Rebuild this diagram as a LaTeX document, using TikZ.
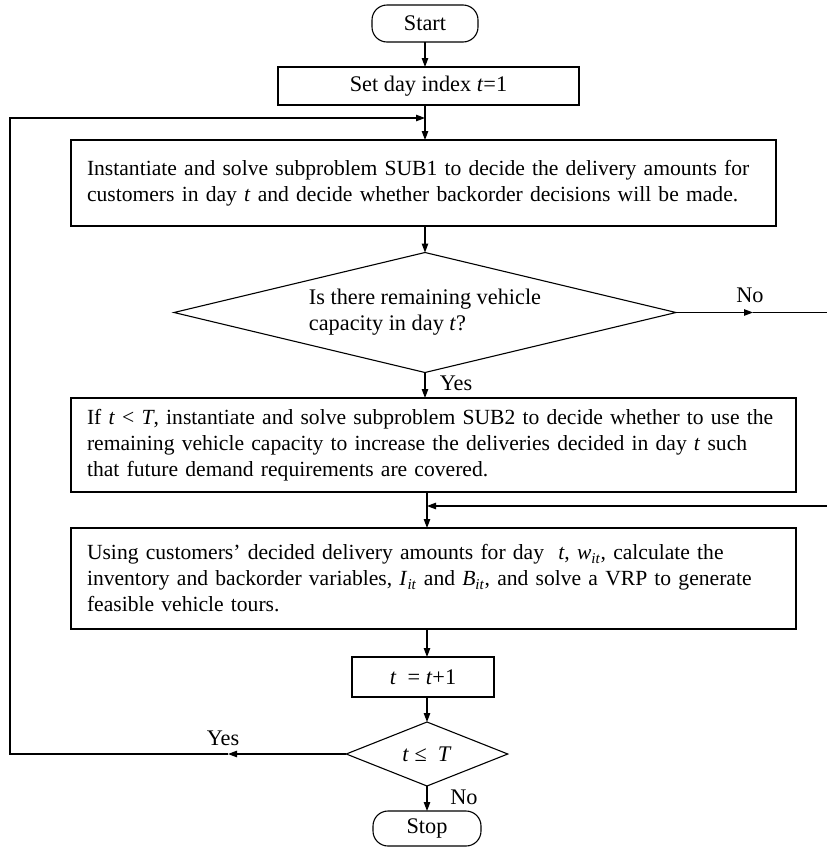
\documentclass[tikz,border=0pt]{standalone}
\usepackage{fontspec}
\setmainfont{Liberation Serif}
\usetikzlibrary{shapes.geometric, arrows.meta}

\begin{document}
\begin{tikzpicture}[x=1pt, y=-1pt, line width=1.1pt]
    \tikzstyle{every node}=[font=\fontsize{22.3}{26}\selectfont, inner sep=0pt, outer sep=0pt];
    \tikzstyle{terminal}=[draw, rounded corners=15pt];
    \tikzstyle{process}=[draw, align=center];
    \tikzstyle{textbox}=[draw, inner xsep=16pt, align=left, font=\fontsize{21.6}{26}\selectfont];
    \tikzstyle{decision}=[draw, diamond, align=left];
    \tikzstyle{flow}=[-{Triangle[length=9pt, width=6.5pt]}];
    \useasboundingbox (0,0) rectangle (827,849);
    % boxes
    \node[terminal, minimum width=106pt, minimum height=37pt] (start) at (425,23.5) {Start};
    \node[process, minimum width=301pt, minimum height=38pt] (setday) at (428.5,86) {Set day index \textit{t}=1};
    \node[textbox, text width=673pt, minimum height=86pt] (sub1) at (423.5,183)
        {\mbox{Instantiate and solve subproblem SUB1 to decide the delivery amounts for}\\
         \mbox{customers in day \textit{t} and decide whether backorder decisions will be made.}};
    \node[decision, aspect=4.2, minimum width=502pt, minimum height=120pt] (cap) at (425,312.5)
        {Is there remaining vehicle\\capacity in day \textit{t}?};
    \node[textbox, text width=693pt, minimum height=94pt] (sub2) at (433.5,445)
        {\mbox{If \textit{t} < \textit{T}, instantiate and solve subproblem SUB2 to decide whether to use the}\\
         \mbox{remaining vehicle capacity to increase the deliveries decided in day \textit{t} such}\\
         \mbox{that future demand requirements are covered.}};
    \node[textbox, text width=693pt, minimum height=101pt] (vrp) at (433.5,578.5)
        {\mbox{Using customers’ decided delivery amounts for day~ \textit{t}, \textit{w}\textsubscript{\textit{it}}, calculate the}\\
         \mbox{inventory and backorder variables, \textit{I}\textsubscript{\textit{it}} and \textit{B}\textsubscript{\textit{it}}, and solve a VRP to generate}\\
         \mbox{feasible vehicle tours.}};
    \node[process, minimum width=142pt, minimum height=40pt] (inc) at (423,677) {\textit{t}~ = \textit{t}+1};
    \node[decision, aspect=2.5, minimum width=161.5pt, minimum height=64pt] (check) at (427,754) {\textit{t} ≤~ \textit{T}};
    \node[terminal, minimum width=108pt, minimum height=35pt] (stop) at (427,828.5) {Stop};
    % labels
    \node (capno) at (750,295) {No};
    \node (capyes) at (456,383) {Yes};
    \node (checkyes) at (223,738) {Yes};
    \node (checkno) at (464,797.5) {No};
    % connector points
    \coordinate (loopjoin) at (425,118);
    \coordinate (yesmid) at (228,754);
    \coordinate (loopcorner) at (10,754);
    \coordinate (nomid) at (753,312.5);
    \coordinate (noend) at (827,312.5);
    \coordinate (mergestart) at (827,506);
    \coordinate (mergejoin) at (427,506);
    % connectors
    \draw[flow] (start.south) -- (start.south |- setday.north);
    \draw[flow] (start.south |- setday.south) -- (start.south |- sub1.north);
    \draw[flow] (start.south |- sub1.south) -- (cap.north);
    \draw[flow] (cap.south) -- (cap.south |- sub2.north);
    \draw[flow] (cap.east) -- (nomid);
    \draw (nomid) -- (noend);
    \draw[flow] (mergejoin |- sub2.south) -- (mergejoin |- vrp.north);
    \draw[flow] (mergestart) -- (mergejoin);
    \draw[flow] (mergejoin |- vrp.south) -- (mergejoin |- inc.north);
    \draw[flow] (check.north |- inc.south) -- (check.north);
    \draw[flow] (check.south) -- (stop.north);
    \draw[flow] (check.west) -- (yesmid);
    \draw[flow] (yesmid) -- (loopcorner) |- (loopjoin);
\end{tikzpicture}
\end{document}
